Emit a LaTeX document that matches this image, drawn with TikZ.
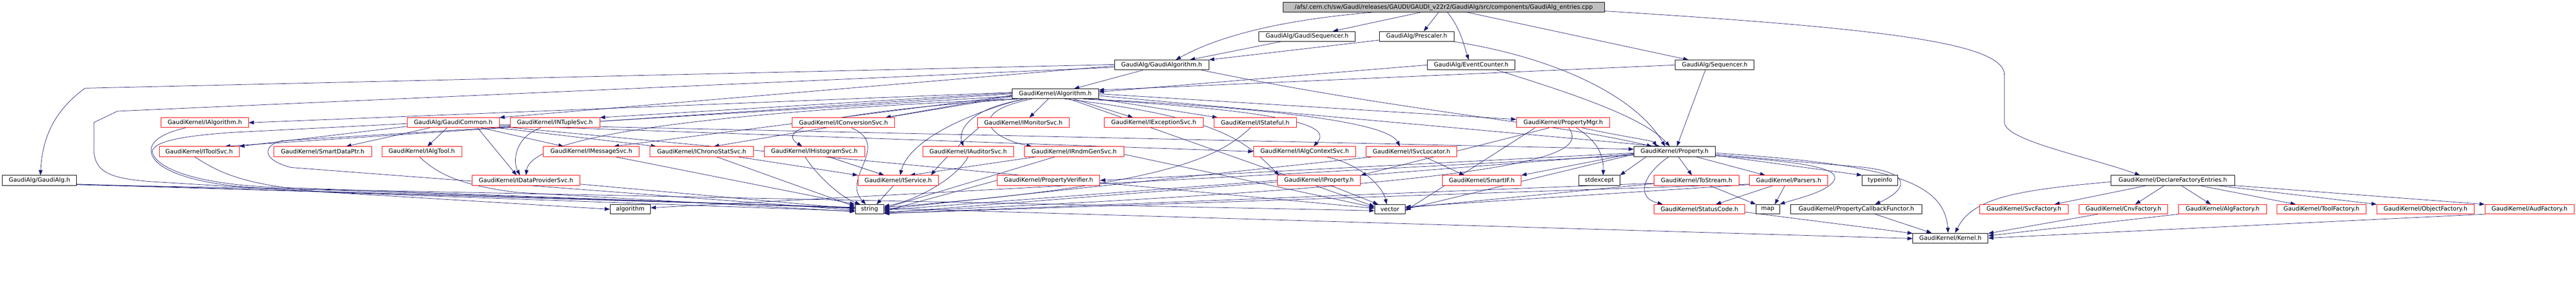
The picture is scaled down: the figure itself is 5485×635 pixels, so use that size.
\documentclass[tikz,border=0pt]{standalone}
\usepackage{fontspec}
\setmainfont{DejaVu Sans}
\usetikzlibrary{arrows.meta,backgrounds}
\definecolor{edgec}{HTML}{191970}
\definecolor{redc}{HTML}{FF0000}
\definecolor{grayc}{HTML}{BFBFBF}
\tikzset{
 box/.style={draw=black, fill=white, line width=1pt, rectangle, inner sep=0pt, minimum height=21pt, font=\fontsize{12.6}{14}\selectfont, text=black},
 rbox/.style={box, draw=redc},
 topbox/.style={box, fill=grayc},
 e/.style={draw=edgec, line width=0.8pt, -{Triangle[length=11pt,width=8pt]}},
}
\begin{document}
\begin{tikzpicture}[x=1pt,y=-1pt]
\useasboundingbox (0,0) rectangle (5485,635);
% row 0
\node[topbox, minimum width=684pt] (T) at (3074,15.5) {/afs/.cern.ch/sw/Gaudi/releases/GAUDI/GAUDI\_v22r2/GaudiAlg/src/components/GaudiAlg\_entries.cpp};
% row 1a
\node[box, minimum width=206pt] (GSeq) at (2783,77.5) {GaudiAlg/GaudiSequencer.h};
\node[box, minimum width=159pt] (Presc) at (3016.5,77.5) {GaudiAlg/Prescaler.h};
% row 1b
\node[box, minimum width=201pt] (GAlgo) at (2473.5,138.5) {GaudiAlg/GaudiAlgorithm.h};
\node[box, minimum width=187pt] (EvC) at (3132.5,138.5) {GaudiAlg/EventCounter.h};
\node[box, minimum width=168pt] (Seq) at (3651,138.5) {GaudiAlg/Sequencer.h};
% row 2
\node[box, minimum width=184pt] (Algo) at (2247,200) {GaudiKernel/Algorithm.h};
% row 3
\node[rbox, minimum width=186pt] (IAlgorithm) at (436,261.5) {GaudiKernel/IAlgorithm.h};
\node[rbox, minimum width=196pt] (GCommon) at (965,261.5) {GaudiAlg/GaudiCommon.h};
\node[rbox, minimum width=191pt] (INTuple) at (1181.5,261.5) {GaudiKernel/INTupleSvc.h};
\node[rbox, minimum width=218pt] (IConv) at (1796,261.5) {GaudiKernel/IConversionSvc.h};
\node[rbox, minimum width=196pt] (IMonitor) at (2179,261.5) {GaudiKernel/IMonitorSvc.h};
\node[rbox, minimum width=211pt] (IExc) at (2456.5,261.5) {GaudiKernel/IExceptionSvc.h};
\node[rbox, minimum width=175pt] (IStateful) at (2672.5,261.5) {GaudiKernel/IStateful.h};
\node[rbox, minimum width=199pt] (PMgr) at (3328.5,261.5) {GaudiKernel/PropertyMgr.h};
% row 4
\node[rbox, minimum width=170pt] (IToolSvc) at (424,323) {GaudiKernel/IToolSvc.h};
\node[rbox, minimum width=208pt] (SDPtr) at (687,323) {GaudiKernel/SmartDataPtr.h};
\node[rbox, minimum width=170pt] (IAlgTool) at (898,323) {GaudiKernel/IAlgTool.h};
\node[rbox, minimum width=204pt] (IMsg) at (1259,323) {GaudiKernel/IMessageSvc.h};
\node[rbox, minimum width=220pt] (IChrono) at (1494,323) {GaudiKernel/IChronoStatSvc.h};
\node[rbox, minimum width=214pt] (IHisto) at (1734,323) {GaudiKernel/IHistogramSvc.h};
\node[rbox, minimum width=193pt] (IAud) at (2061.5,323) {GaudiKernel/IAuditorSvc.h};
\node[rbox, minimum width=212pt] (IRndm) at (2287,323) {GaudiKernel/IRndmGenSvc.h};
\node[rbox, minimum width=218pt] (IAlgCtx) at (2778,323) {GaudiKernel/IAlgContextSvc.h};
\node[rbox, minimum width=193pt] (ISvcLoc) at (3005.5,323) {GaudiKernel/ISvcLocator.h};
\node[box, minimum width=173pt] (Prop) at (3565.5,323) {GaudiKernel/Property.h};
% row 5
\node[box, minimum width=158pt] (GAlg) at (84,384.5) {GaudiAlg/GaudiAlg.h};
\node[rbox, minimum width=230pt] (IDP) at (1120,384.5) {GaudiKernel/IDataProviderSvc.h};
\node[rbox, minimum width=171pt] (ISvc) at (1912.5,384.5) {GaudiKernel/IService.h};
\node[rbox, minimum width=219pt] (PVer) at (2232.5,384.5) {GaudiKernel/PropertyVerifier.h};
\node[rbox, minimum width=177pt] (IProp) at (2808.5,384.5) {GaudiKernel/IProperty.h};
\node[rbox, minimum width=168pt] (SmartIF) at (3155,384.5) {GaudiKernel/SmartIF.h};
\node[box, minimum width=87pt] (stdexc) at (3405.5,384.5) {stdexcept};
\node[rbox, minimum width=181pt] (ToStream) at (3612.5,384.5) {GaudiKernel/ToStream.h};
\node[rbox, minimum width=167pt] (Parsers) at (3808.5,384.5) {GaudiKernel/Parsers.h};
\node[box, minimum width=76pt] (typeinfo) at (4003,384.5) {typeinfo};
\node[box, minimum width=263pt] (DFE) at (4626.5,384.5) {GaudiKernel/DeclareFactoryEntries.h};
% row 6
\node[box, minimum width=86pt, minimum height=20pt] (algorithmN) at (1342,446) {algorithm};
\node[box, minimum width=61pt, minimum height=20pt] (str) at (1851.5,446) {string};
\node[box, minimum width=65pt, minimum height=20pt] (vec) at (2959.5,446) {vector};
\node[rbox, minimum width=193pt, minimum height=20pt] (SC) at (3618.5,446) {GaudiKernel/StatusCode.h};
\node[box, minimum width=50pt, minimum height=20pt] (map) at (3764,446) {map};
\node[box, minimum width=279pt, minimum height=20pt] (PCF) at (3952.5,446) {GaudiKernel/PropertyCallbackFunctor.h};
\node[rbox, minimum width=189pt, minimum height=20pt] (SvcF) at (4309.5,446) {GaudiKernel/SvcFactory.h};
\node[rbox, minimum width=189pt, minimum height=20pt] (CnvF) at (4521.5,446) {GaudiKernel/CnvFactory.h};
\node[rbox, minimum width=187pt, minimum height=20pt] (AlgF) at (4732.5,446) {GaudiKernel/AlgFactory.h};
\node[rbox, minimum width=190pt, minimum height=20pt] (ToolF) at (4943,446) {GaudiKernel/ToolFactory.h};
\node[rbox, minimum width=207pt, minimum height=20pt] (ObjF) at (5164.5,446) {GaudiKernel/ObjectFactory.h};
\node[rbox, minimum width=190pt, minimum height=20pt] (AudF) at (5386,446) {GaudiKernel/AudFactory.h};
% row 7
\node[box, minimum width=160pt] (Kernel) at (4153,507.5) {GaudiKernel/Kernel.h};

\begin{pgfonlayer}{background}
% ---- edges from top file
\draw[e] ([xshift=-154pt]T.south) .. controls (2700,45) and (2580,85) .. ([xshift=30pt]GAlgo.north);
\draw[e] ([xshift=-50pt]T.south) -- ([xshift=55pt]GSeq.north);
\draw[e] ([xshift=-11pt]T.south) -- ([xshift=15pt]Presc.north);
\draw[e] ([xshift=8pt]T.south) .. controls (3110,60) and (3118,100) .. ([xshift=-5pt]EvC.north);
\draw[e] ([xshift=51pt]T.south) -- ([xshift=-56pt]Seq.north);
\draw[e] ([yshift=-8pt]T.east) .. controls (4000,60) and (4268,90) .. (4268,160) -- (4268,262) .. controls (4272,300) and (4450,335) .. ([xshift=-70pt]DFE.north);
% ---- GaudiAlg layer
\draw[e] ([xshift=-55pt]GSeq.south) -- ([xshift=60pt]GAlgo.north);
\draw[e] ([yshift=-8pt]Presc.west) -- (GAlgo.north east);
\draw[e] ([xshift=-3pt]Presc.south east) .. controls (3300,120) and (3480,200) .. ([xshift=-20pt]Prop.north);
\draw[e] (EvC.west) -- ([yshift=4pt]Algo.east);
\draw[e] ([xshift=55pt]EvC.south) .. controls (3350,200) and (3500,250) .. ([xshift=-10pt]Prop.north);
\draw[e] (Seq.west) -- ([yshift=8pt]Algo.east);
\draw[e] ([xshift=-20pt]Seq.south) -- ([xshift=5pt]Prop.north);
\draw[e] ([xshift=-40pt]GAlgo.south) -- ([xshift=40pt]Algo.north);
\draw[e] ([yshift=-2pt]GAlgo.west) -- (GCommon.north east);
\draw[e] ([yshift=1pt]GAlgo.west) -- (181,188) .. controls (110,240) and (90,300) .. ([xshift=2pt]GAlg.north);
\draw[e] ([yshift=-5pt]GAlgo.west) -- (250,237) -- (200,261) -- (200,325) .. controls (205,365) and (230,380) .. (320,387) -- (algorithmN.west);
\draw[e] ([xshift=85pt]GAlgo.south) .. controls (3000,240) and (3300,260) .. ([xshift=-48pt]Prop.north);
% ---- GaudiAlg.h
\draw[e] ([yshift=-9pt]GAlg.east) -- ([yshift=-1pt]Kernel.west);
\draw[e] ([yshift=-8pt]GAlg.east) -- ([yshift=4pt]str.west);
\draw[e] ([yshift=-9pt]GAlg.east) -- ([yshift=-3pt]vec.west);
% ---- Algorithm.h
\draw[e] ([yshift=3pt]Algo.west) -- (IAlgorithm.east);
\draw[e] (Algo.west) -- ([xshift=55pt]IToolSvc.north);
\draw[e] ([yshift=2pt]Algo.west) -- (INTuple.north east);
\draw[e] ([yshift=-3pt]Algo.west) -- ([xshift=-20pt]IConv.north east);
\draw[e] ([xshift=-15pt]Algo.south) -- ([xshift=13pt]IMonitor.north);
\draw[e] ([xshift=40pt]Algo.south) -- ([xshift=-44pt]IExc.north);
\draw[e] (Algo.south east) -- ([xshift=-80pt]IStateful.north);
\draw[e] (Algo.east) -- ([yshift=7pt]PMgr.west);
\draw[e] ([yshift=-4pt]Algo.west) -- ([xshift=48pt]IMsg.north);
\draw[e] ([yshift=-6pt]Algo.west) -- ([xshift=26pt]IChrono.north);
\draw[e] ([xshift=-80pt]Algo.south) .. controls (1750,240) and (1650,275) .. ([xshift=-26pt]IHisto.north);
\draw[e] ([xshift=-60pt]Algo.south) .. controls (2060,230) and (2040,280) .. ([xshift=-10pt]IAud.north);
\draw[e] ([xshift=-50pt]Algo.south) .. controls (2050,240) and (2110,295) .. ([xshift=-90pt]IRndm.north);
\draw[e] ([xshift=60pt]Algo.south) .. controls (2800,240) and (2830,275) .. ([xshift=19pt]IAlgCtx.north);
\draw[e] ([xshift=70pt]Algo.south) .. controls (2800,235) and (2960,270) .. ([xshift=-25pt]ISvcLoc.north);
\draw[e] ([xshift=-85pt]Algo.south) .. controls (1500,240) and (1130,290) .. ([xshift=0pt]IDP.north);
\draw[e] ([xshift=-70pt]Algo.south) .. controls (2000,260) and (1930,320) .. ([xshift=4pt]ISvc.north);
\draw[e] ([xshift=20pt]Algo.south) .. controls (2600,250) and (2650,300) .. ([xshift=-85pt]IProp.north);
\draw[e] ([yshift=-5pt]Algo.west) -- (600,300) .. controls (560,310) and (555,340) .. (620,357) -- ([yshift=-2pt]str.west);
\draw[e] ([xshift=30pt]Algo.south) -- ([yshift=6pt]vec.west);
\draw[e] ([yshift=-4pt]Algo.east) -- ([xshift=-30pt]Prop.north);
% ---- GaudiCommon.h
\draw[e] ([yshift=-8pt]GCommon.west) -- (IToolSvc.north east);
\draw[e] ([xshift=-50pt]GCommon.south) -- ([xshift=50pt]SDPtr.north);
\draw[e] ([xshift=-13pt]GCommon.south) -- ([xshift=12pt]IAlgTool.north);
\draw[e] ([xshift=52pt]GCommon.south) -- ([xshift=-20pt]IDP.north);
\draw[e] ([xshift=60pt]GCommon.south) -- ([xshift=-59pt]IMsg.north);
\draw[e] ([xshift=95pt]GCommon.south) -- ([xshift=-97pt]IChrono.north);
\draw[e] ([yshift=-6pt]GCommon.east) -- (IAlgCtx.west);
\draw[e] ([yshift=-2pt]GCommon.west) -- (500,282) .. controls (380,290) and (330,302) .. (324,322) .. controls (330,360) and (420,390) .. (560,398) -- ([yshift=2pt]str.west);
\draw[e] ([yshift=-8pt]GCommon.east) -- ([yshift=2pt]vec.west);
\draw[e] ([yshift=-4pt]GCommon.east) -- ([yshift=5pt]Prop.west);
% ---- interfaces
\draw[e] ([xshift=-41pt]IAlgorithm.south) .. controls (340,285) and (318,305) .. (322,325) .. controls (330,365) and (420,392) .. (540,400) -- ([yshift=3pt]str.west);
\draw[e] ([xshift=-10pt]IToolSvc.south) .. controls (470,370) and (520,395) .. (700,410) -- ([yshift=-4pt]str.west);
\draw[e] ([xshift=-5pt]IAlgTool.south) .. controls (930,370) and (980,395) .. (1100,410) -- ([yshift=-5pt]str.west);
\draw[e] ([yshift=-8pt]IDP.east) -- ([yshift=1pt]str.west);
\draw[e] ([xshift=50pt]IMsg.south) -- (str.north west);
\draw[e] ([xshift=31pt]IChrono.south) -- ([yshift=6pt]str.west);
\draw[e] ([xshift=75pt]IChrono.south) -- (ISvc.north west);
\draw[e] ([xshift=-20pt]IHisto.south) .. controls (1740,375) and (1790,420) .. ([xshift=-20pt]str.north);
\draw[e] ([xshift=30pt]IHisto.south) -- ([xshift=-30pt]ISvc.north);
\draw[e] ([xshift=-30pt]INTuple.south) .. controls (1100,290) and (1090,340) .. ([xshift=-13pt]IDP.north);
\draw[e] ([xshift=17pt]IConv.south) .. controls (1900,310) and (1790,380) .. ([xshift=-8pt]str.north);
\draw[e] ([xshift=-95pt]IMonitor.south) .. controls (2050,300) and (2000,350) .. ([xshift=70pt]ISvc.north);
\draw[e] (IAud.south) .. controls (2040,375) and (1960,425) .. ([yshift=6pt]str.east);
\draw[e] ([xshift=-40pt]IRndm.south) -- ([yshift=2pt]str.east);
\draw[e] ([xshift=-80pt]IRndm.south) -- ([xshift=25pt]ISvc.north);
\draw[e] ([yshift=-6pt]IRndm.east) -- ([yshift=4pt]vec.west);
\draw[e] ([xshift=-10pt]IStateful.south) .. controls (2600,330) and (2500,395) .. ([yshift=4pt]str.east);
\draw[e] ([xshift=45pt]IAlgCtx.south) .. controls (2900,350) and (2945,400) .. ([xshift=-7pt]vec.north);
\draw[e] ([xshift=27pt]ISvcLoc.south) -- ([xshift=-37pt]SmartIF.north);
\draw[e] ([xshift=-80pt]ISvcLoc.south) -- (str.east);
\draw[e] (IProp.west) -- ([yshift=-2pt]str.east);
\draw[e] ([xshift=25pt]IProp.south) -- ([xshift=-25pt]vec.north);
\draw[e] ([xshift=-10pt]ISvc.south) -- ([xshift=15pt]str.north);
\draw[e] (PVer.west) -- ([yshift=-4pt]str.east);
% ---- PropertyMgr.h
\draw[e] ([xshift=-30pt]PMgr.south) -- (IProp.north east);
\draw[e] ([xshift=40pt]PMgr.south) .. controls (3450,290) and (3520,300) .. ([xshift=-38pt]Prop.north);
\draw[e] ([xshift=28pt]PMgr.south) .. controls (3400,300) and (3415,330) .. ([xshift=8pt]stdexc.north);
\draw[e] ([xshift=12pt]PMgr.south) .. controls (3380,330) and (3300,390) .. ([yshift=-6pt]str.east);
\draw[e] ([xshift=-60pt]PMgr.south) -- ([yshift=-3pt]vec.east);
% ---- Property.h
\draw[e] ([yshift=-3pt]Prop.west) -- (PVer.east);
\draw[e] ([xshift=8pt]Prop.south) -- ([xshift=-10pt]ToStream.north);
\draw[e] ([xshift=45pt]Prop.south) -- ([xshift=-50pt]Parsers.north);
\draw[e] ([yshift=-8pt]Prop.east) -- (typeinfo.north west);
\draw[e] ([xshift=-12pt]Prop.south) .. controls (3500,370) and (3480,420) .. ([xshift=-78pt]SC.north);
\draw[e] ([yshift=-3pt]Prop.east) .. controls (4000,350) and (4140,380) .. ([xshift=-5pt]Kernel.north);
\draw[e] ([yshift=-6pt]Prop.east) -- (3950,355) .. controls (4080,365) and (4060,405) .. ([xshift=40pt]PCF.north);
\draw[e] ([yshift=-5pt]Prop.west) -- ([yshift=-8pt]str.east);
\draw[e] ([yshift=-6pt]Prop.west) -- (vec.east);
\draw[e] ([xshift=-60pt]Prop.south) -- (stdexc.north east);
\draw[e] ([yshift=-9pt]Prop.east) .. controls (3850,345) and (3920,360) .. (3905,385) .. controls (3890,410) and (3820,425) .. (map.north east);
\draw[e] ([yshift=-4pt]Prop.west) -- (SmartIF.north east);
\draw[e] ([yshift=-8pt]Prop.west) -- ([yshift=3pt]algorithmN.east);
% ---- ToStream / Parsers / StatusCode / PCF
\draw[e] ([xshift=28pt]ToStream.south) -- (map.north west);
\draw[e] ([yshift=-6pt]ToStream.west) -- ([yshift=-9pt]str.east);
\draw[e] ([yshift=-7pt]ToStream.west) -- ([yshift=3pt]vec.east);
\draw[e] ([xshift=-33pt]Parsers.south) -- ([xshift=35pt]SC.north);
\draw[e] ([xshift=-8pt]Parsers.south) -- ([xshift=15pt]map.north);
\draw[e] ([yshift=-8pt]Parsers.west) -- ([yshift=-9pt]str.east);
\draw[e] ([yshift=-9pt]Parsers.west) -- ([yshift=5pt]vec.east);
\draw[e] ([yshift=-6pt]SC.east) -- ([yshift=10pt]Kernel.west);
\draw[e] ([xshift=40pt]PCF.south) -- ([xshift=-40pt]Kernel.north);
% ---- factories
\draw[e] ([yshift=-3pt]DFE.west) .. controls (4300,405) and (4200,420) .. ([xshift=10pt]Kernel.north);
\draw[e] ([xshift=-56pt]DFE.south) -- ([xshift=65pt]SvcF.north);
\draw[e] ([xshift=-18pt]DFE.south) -- ([xshift=25pt]CnvF.north);
\draw[e] ([xshift=18pt]DFE.south) -- ([xshift=-25pt]AlgF.north);
\draw[e] ([xshift=57pt]DFE.south) -- ([xshift=-55pt]ToolF.north);
\draw[e] ([xshift=95pt]DFE.south) -- (ObjF.north west);
\draw[e] (DFE.south east) -- (AudF.north west);
\draw[e] ([xshift=40pt]CnvF.south west) -- ([yshift=10pt]Kernel.east);
\draw[e] (AlgF.south west) -- ([yshift=5pt]Kernel.east);
\draw[e] (AudF.south west) -- ([yshift=0pt]Kernel.east);
\end{pgfonlayer}
\end{tikzpicture}
\end{document}
